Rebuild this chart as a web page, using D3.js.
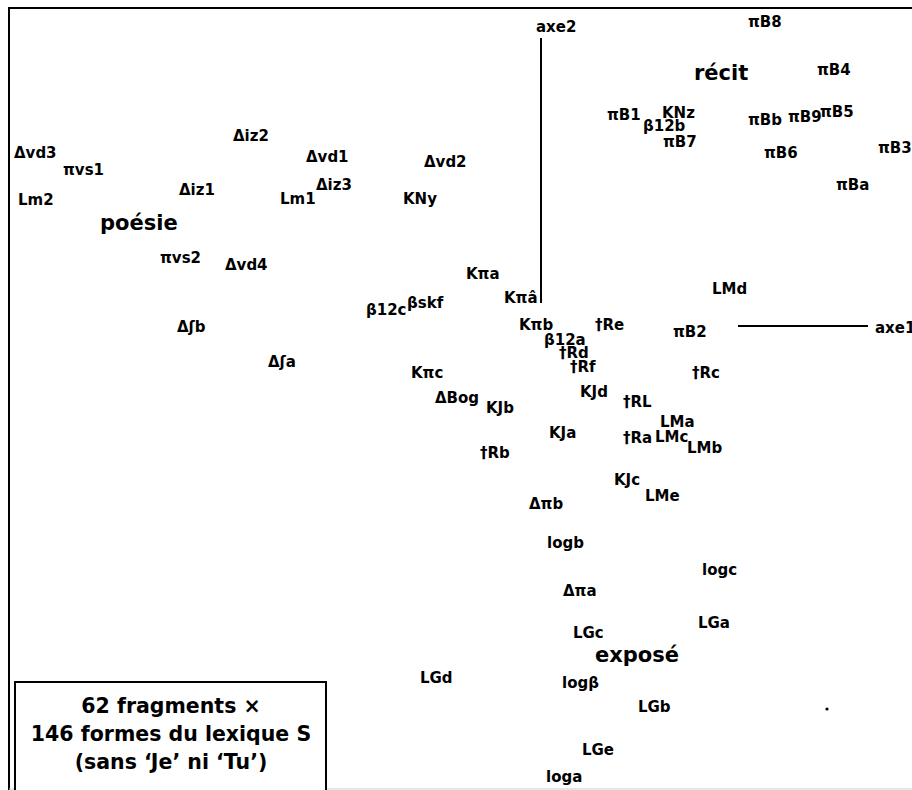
<!DOCTYPE html>
<html>
<head>
<meta charset="utf-8">
<script src="https://cdnjs.cloudflare.com/ajax/libs/d3/7.8.5/d3.min.js"></script>
<style>
  body { margin: 0; background: #fff; }
  text { font-family: "DejaVu Sans", sans-serif; font-weight: bold; fill: #000; }
</style>
</head>
<body>
<div class="plot"></div>
<script>
const width = 912;
const height = 790;

// fragments: label, factor 1, factor 2
const labels = ["Δvd3", "πvs1", "Lm2", "Δiz2", "Δiz1", "Lm1", "Δvd1", "Δiz3", "Δvd2", "KNy",
  "πB8", "πB4", "πB1", "KNz", "β12b", "πB7", "πBb", "πB9", "πB5", "πB6", "πB3", "πBa",
  "πvs2", "Δvd4", "Δʃb", "Δʃa", "Kπa", "Kπâ", "β12c", "βskf", "Kπb", "β12a",
  "†Rd", "†Rf", "†Re", "KJd", "Kπc", "ΔBog", "KJb", "KJa", "†Rb",
  "LMd", "πB2", "†Rc", "†RL", "LMa", "†Ra", "LMc", "LMb", "KJc", "LMe",
  "Δπb", "logb", "logc", "Δπa", "LGc", "LGa", "LGd", "logβ", "LGb", "LGe", "loga"];
const f1 = [-5.27, -4.78, -5.23, -3.08, -3.62, -2.61, -2.35, -2.25, -1.17, -1.38,
  2.07, 2.76, 0.66, 1.21, 1.02, 1.22, 2.07, 2.47, 2.79, 2.23, 3.37, 2.95,
  -3.81, -3.16, -3.64, -2.73, -0.75, -0.37, -1.75, -1.34, -0.22, 0.03,
  0.18, 0.29, 0.54, 0.39, -1.30, -1.06, -0.55, 0.08, -0.61,
  1.71, 1.32, 1.51, 0.82, 1.19, 0.82, 1.14, 1.46, 0.73, 1.04,
  -0.12, 0.06, 1.61, 0.22, 0.32, 1.57, -1.21, 0.21, 0.97, 0.41, 0.05];
const f2 = [1.68, 1.51, 1.21, 1.85, 1.31, 1.22, 1.64, 1.36, 1.59, 1.22,
  2.99, 2.51, 2.06, 2.08, 1.95, 1.79, 2.01, 2.04, 2.09, 1.68, 1.73, 1.36,
  0.63, 0.56, -0.06, -0.41, 0.47, 0.23, 0.11, 0.18, -0.04, -0.19,
  -0.32, -0.46, -0.04, -0.71, -0.52, -0.77, -0.87, -1.12, -1.32,
  0.32, -0.11, -0.52, -0.81, -1.01, -1.17, -1.16, -1.27, -1.59, -1.75,
  -1.83, -2.22, -2.49, -2.70, -3.12, -3.02, -3.57, -3.62, -3.86, -4.29, -4.56];

// genres
const genres = ["poésie", "récit", "exposé"];
const genreF1 = [-4.41, 1.53, 0.54];
const genreF2 = [0.96, 2.46, -3.36];

// stray point
const dotF1 = [2.86];
const dotF2 = [-3.83];

const caption = ["62 fragments ×", "146 formes du lexique S", "(sans ‘Je’ ni ‘Tu’)"];

let xScale = d3.scaleLinear().domain([-5.41, 3.71]).range([0, width]);
let yScale = d3.scaleLinear().domain([3.26, -4.64]).range([0, height]);

let svg = d3.select(".plot").append("svg")
  .attr("width", width)
  .attr("height", height);

// frame
svg.append("line").attr("x1", 8).attr("y1", 8).attr("x2", width).attr("y2", 8)
  .attr("stroke", "#000").attr("stroke-width", 2);
svg.append("line").attr("x1", 9).attr("y1", 8).attr("x2", 9).attr("y2", height)
  .attr("stroke", "#000").attr("stroke-width", 2);
svg.append("line").attr("x1", 9).attr("y1", 789).attr("x2", width).attr("y2", 789)
  .attr("stroke", "#ccc").attr("stroke-width", 1);

// axes
svg.append("line")
  .attr("x1", xScale(0)).attr("x2", xScale(0))
  .attr("y1", yScale(2.88)).attr("y2", yScale(0.23))
  .attr("stroke", "#000").attr("stroke-width", 2);
svg.append("text").text("axe2")
  .attr("x", xScale(-0.05)).attr("y", yScale(2.94))
  .attr("font-size", 15);
svg.append("line")
  .attr("x1", xScale(1.97)).attr("x2", xScale(3.27))
  .attr("y1", yScale(0)).attr("y2", yScale(0))
  .attr("stroke", "#000").attr("stroke-width", 2);
svg.append("text").text("axe1")
  .attr("x", xScale(3.34)).attr("y", yScale(-0.07))
  .attr("font-size", 15);

// fragments
svg.append("g")
  .selectAll("text")
  .data(labels)
  .enter()
  .append("text")
  .text((d) => d)
  .attr("x", (d, i) => xScale(f1[i]))
  .attr("y", (d, i) => yScale(f2[i]))
  .attr("font-size", 15);

svg.append("g")
  .selectAll("text")
  .data(genres)
  .enter()
  .append("text")
  .text((d) => d)
  .attr("x", (d, i) => xScale(genreF1[i]))
  .attr("y", (d, i) => yScale(genreF2[i]))
  .attr("font-size", 21);

svg.selectAll("circle.dot")
  .data(dotF1)
  .enter()
  .append("circle")
  .attr("class", "dot")
  .attr("cx", (d) => xScale(d))
  .attr("cy", (d, i) => yScale(dotF2[i]))
  .attr("r", 1.6)
  .attr("fill", "#000");

// caption box
svg.append("rect")
  .attr("x", 15).attr("y", 682)
  .attr("width", 311).attr("height", 112)
  .attr("fill", "#fff").attr("stroke", "#000").attr("stroke-width", 2);
svg.append("g")
  .selectAll("text")
  .data(caption)
  .enter()
  .append("text")
  .text((d) => d)
  .attr("x", 171)
  .attr("y", (d, i) => 713 + i * 28)
  .attr("text-anchor", "middle")
  .attr("font-size", 20.5);
</script>
</body>
</html>
